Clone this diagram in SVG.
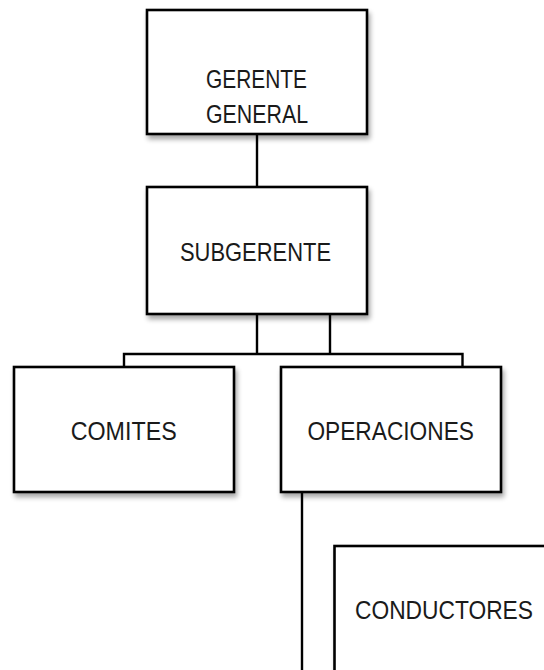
<svg xmlns="http://www.w3.org/2000/svg" width="544" height="670" viewBox="0 0 544 670">
  <style>
    .box { fill: #ffffff; stroke: #000000; stroke-width: 2.6; filter: url(#shadow); }
    .lbl { font-family: "Liberation Sans", Arial, sans-serif; font-size: 26.5px; fill: #1a1a1a; text-anchor: middle; }
    .conn { fill: none; stroke: #000000; stroke-width: 2.4; }
  </style>
  <defs>
    <filter id="shadow" x="-10%" y="-10%" width="125%" height="130%">
      <feGaussianBlur in="SourceAlpha" stdDeviation="2.5"/>
      <feOffset dx="2" dy="4" result="b"/>
      <feComponentTransfer><feFuncA type="linear" slope="0.35"/></feComponentTransfer>
      <feMerge><feMergeNode/><feMergeNode in="SourceGraphic"/></feMerge>
    </filter>
  </defs>
  <rect width="544" height="670" fill="#ffffff"/>
  <g id="connectors">
    <line class="conn" x1="257" y1="135" x2="257" y2="187"/>
    <path class="conn" d="M257 314 V354 M330 314 V354 M124 367 V354 H462.5 V367"/>
    <line class="conn" x1="302" y1="492" x2="302" y2="672"/>
  </g>
  <g id="gerente-general">
    <rect class="box" x="147" y="10" width="220" height="124"/>
    <text class="lbl" x="256.5" y="88" textLength="101" lengthAdjust="spacingAndGlyphs">GERENTE</text>
    <text class="lbl" x="257" y="123" textLength="102" lengthAdjust="spacingAndGlyphs">GENERAL</text>
  </g>
  <g id="subgerente">
    <rect class="box" x="147" y="187" width="220" height="127"/>
    <text class="lbl" x="255.5" y="260.5" textLength="151" lengthAdjust="spacingAndGlyphs">SUBGERENTE</text>
  </g>
  <g id="comites">
    <rect class="box" x="14" y="367" width="220" height="125"/>
    <text class="lbl" x="123.7" y="439.5" textLength="106" lengthAdjust="spacingAndGlyphs">COMITES</text>
  </g>
  <g id="operaciones">
    <rect class="box" x="281" y="367" width="220" height="125"/>
    <text class="lbl" x="390.7" y="439.5" textLength="166.5" lengthAdjust="spacingAndGlyphs">OPERACIONES</text>
  </g>
  <g id="conductores">
    <rect class="box" x="334.5" y="546" width="230" height="140"/>
    <text class="lbl" x="444" y="618.5" font-size="25" style="font-size:25px" textLength="178" lengthAdjust="spacingAndGlyphs">CONDUCTORES</text>
  </g>
</svg>
